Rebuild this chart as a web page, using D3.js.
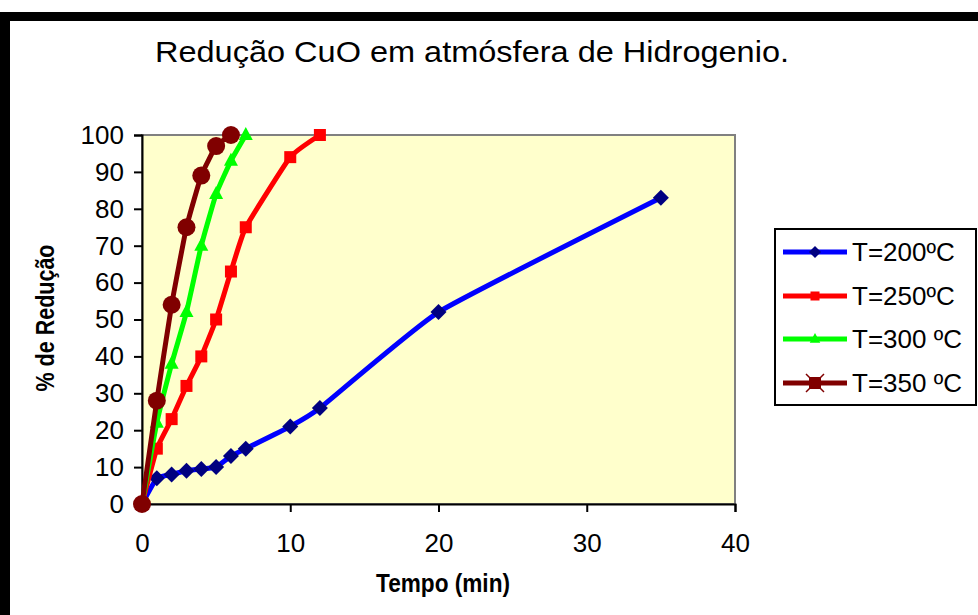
<!DOCTYPE html>
<html>
<head>
<meta charset="utf-8">
<script src="https://cdn.jsdelivr.net/npm/d3@7"></script>
<style>
  html, body { margin: 0; padding: 0; background: #fff; }
  svg { display: block; }
  text { font-family: Arial, "Liberation Sans", sans-serif; }
</style>
</head>
<body>
<div id="chart"></div>
<script>
// Redução de CuO em H2: % de redução vs tempo, quatro temperaturas
const seriesNames = ["T=200ºC", "T=250ºC", "T=300 ºC", "T=350 ºC"];
const t200 = [0, 1, 2, 3, 4, 5, 6, 7, 10, 12, 20, 35];
const v200 = [0, 7, 8, 9, 9.5, 10, 13, 15, 21, 26, 52, 83];
const t250 = [0, 1, 2, 3, 4, 5, 6, 7, 10, 12];
const v250 = [0, 15, 23, 32, 40, 50, 63, 75, 94, 100];
const t300 = [0, 1, 2, 3, 4, 5, 6, 7];
const v300 = [0, 22, 38, 52, 70, 84, 93, 100];
const t350 = [0, 1, 2, 3, 4, 5, 6];
const v350 = [0, 28, 54, 75, 89, 97, 100];
const xTicks = [0, 10, 20, 30, 40];
const yTicks = [0, 10, 20, 30, 40, 50, 60, 70, 80, 90, 100];

const W = 978, H = 615;
const plot = { left: 142, right: 735, top: 135, bottom: 504 };
const font = "Arial, 'Liberation Sans', sans-serif";

const svg = d3.select("#chart").append("svg")
  .attr("width", W).attr("height", H);

// frame
svg.append("rect").attr("x", 0).attr("y", 12).attr("width", W).attr("height", 9).attr("fill", "#000");
svg.append("rect").attr("x", 0).attr("y", 12).attr("width", 10).attr("height", H - 12).attr("fill", "#000");

const x = d3.scaleLinear().domain([0, 40]).range([plot.left, plot.right]);
const y = d3.scaleLinear().domain([0, 100]).range([plot.bottom, plot.top]);

// plot area
svg.append("rect")
  .attr("x", plot.left).attr("y", plot.top)
  .attr("width", plot.right - plot.left).attr("height", plot.bottom - plot.top)
  .attr("fill", "#FFFFCC").attr("stroke", "#808080").attr("stroke-width", 2);

// axes
const yAxis = svg.append("g")
  .attr("transform", `translate(${plot.left},0)`)
  .call(d3.axisLeft(y).tickValues(yTicks).tickSize(8).tickPadding(10).tickFormat(d3.format("d")));
const xAxis = svg.append("g")
  .attr("transform", `translate(0,${plot.bottom})`)
  .call(d3.axisBottom(x).tickValues(xTicks).tickSize(8).tickPadding(22).tickFormat(d3.format("d")));
[xAxis, yAxis].forEach(g => {
  g.select(".domain").attr("stroke", "#000").attr("stroke-width", 2);
  g.selectAll(".tick line").attr("stroke", "#000").attr("stroke-width", 2);
  g.selectAll(".tick text").attr("font-size", 26).attr("fill", "#000").attr("font-family", font);
});

// title and axis titles
svg.append("text").attr("x", 472).attr("y", 62).attr("text-anchor", "middle")
  .attr("font-size", 30).attr("textLength", 634).attr("lengthAdjust", "spacingAndGlyphs")
  .text("Redução CuO em atmósfera de Hidrogenio.");
svg.append("text").attr("x", 443).attr("y", 592).attr("text-anchor", "middle")
  .attr("font-size", 25).attr("font-weight", "bold")
  .attr("textLength", 134).attr("lengthAdjust", "spacingAndGlyphs")
  .text("Tempo (min)");
svg.append("text").attr("transform", "translate(54,318) rotate(-90)").attr("text-anchor", "middle")
  .attr("font-size", 25).attr("font-weight", "bold")
  .attr("textLength", 147).attr("lengthAdjust", "spacingAndGlyphs")
  .text("% de Redução");

const series = [
  { name: seriesNames[0], t: t200, v: v200, color: "#0000FF", mark: "#000080", shape: "diamond" },
  { name: seriesNames[1], t: t250, v: v250, color: "#FF0000", mark: "#FF0000", shape: "square" },
  { name: seriesNames[2], t: t300, v: v300, color: "#00FF00", mark: "#00FF00", shape: "triangle" },
  { name: seriesNames[3], t: t350, v: v350, color: "#800000", mark: "#800000", shape: "circle" }
];

const line = d3.line().x(d => x(d[0])).y(d => y(d[1])).curve(d3.curveCardinal.tension(0.6));

function drawMarker(g, shape, color, cx, cy, scale) {
  const s = scale || 1;
  if (shape === "diamond") {
    g.append("path").attr("d", `M${cx},${cy - 8 * s}L${cx + 8 * s},${cy}L${cx},${cy + 8 * s}L${cx - 8 * s},${cy}Z`).attr("fill", color);
  } else if (shape === "square") {
    g.append("rect").attr("x", cx - 6 * s).attr("y", cy - 6 * s).attr("width", 12 * s).attr("height", 12 * s).attr("fill", color);
  } else if (shape === "triangle") {
    g.append("path").attr("d", `M${cx},${cy - 8 * s}L${cx + 7 * s},${cy + 5 * s}L${cx - 7 * s},${cy + 5 * s}Z`).attr("fill", color);
  } else {
    g.append("circle").attr("cx", cx).attr("cy", cy).attr("r", 9 * s).attr("fill", color);
  }
}

series.forEach(s => {
  const pts = s.t.map((t, i) => [t, s.v[i]]);
  const g = svg.append("g");
  g.append("path").datum(pts).attr("d", line)
    .attr("fill", "none").attr("stroke", s.color).attr("stroke-width", 5)
    .attr("stroke-linejoin", "round");
  pts.forEach(p => drawMarker(g, s.shape, s.mark, x(p[0]), y(p[1])));
});

// legend
const lg = svg.append("g");
lg.append("rect").attr("x", 775).attr("y", 229).attr("width", 201).attr("height", 176)
  .attr("fill", "#fff").attr("stroke", "#000").attr("stroke-width", 2);
const legY = [252, 296, 339, 383];
series.forEach((s, i) => {
  lg.append("line").attr("x1", 783).attr("x2", 847).attr("y1", legY[i]).attr("y2", legY[i])
    .attr("stroke", s.color).attr("stroke-width", 5);
  if (s.shape === "circle") {
    // small square with an x for the last series' legend key
    lg.append("rect").attr("x", 809).attr("y", legY[i] - 6).attr("width", 12).attr("height", 12).attr("fill", s.mark);
    lg.append("path").attr("d", `M806,${legY[i] - 9}L824,${legY[i] + 9}M824,${legY[i] - 9}L806,${legY[i] + 9}`)
      .attr("stroke", s.mark).attr("stroke-width", 1.5);
  } else {
    drawMarker(lg, s.shape, s.mark, 815, legY[i], 0.75);
  }
  lg.append("text").attr("x", 852).attr("y", legY[i]).attr("dy", "0.36em")
    .attr("font-size", 26).text(s.name);
});
</script>
</body>
</html>
